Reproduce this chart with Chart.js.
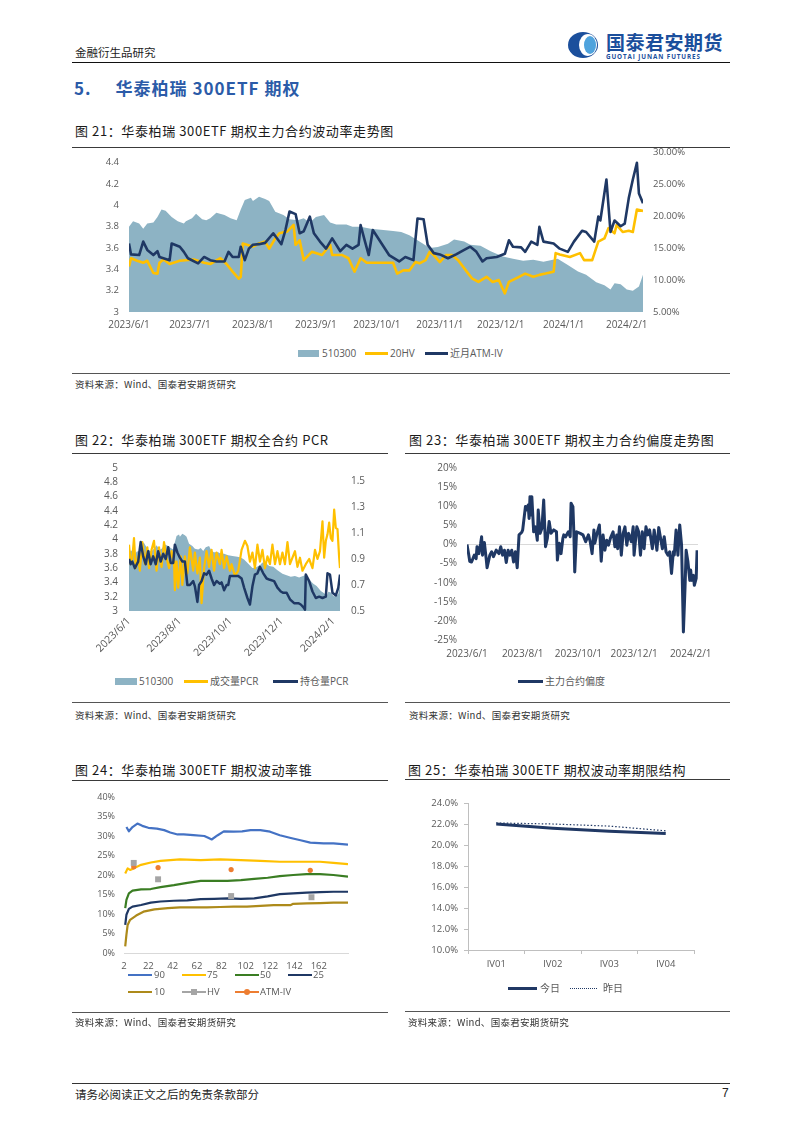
<!DOCTYPE html>
<html><head><meta charset="utf-8">
<script src="https://cdn.jsdelivr.net/npm/chart.js@4.4.1/dist/chart.umd.min.js"></script>
<style>
body{margin:0;background:#fff;width:802px;height:1134px;position:relative;overflow:hidden;font-family:"Noto Sans CJK SC","Noto Sans",sans-serif;}
.abs{position:absolute;white-space:nowrap;}
.rule{position:absolute;height:0;border-top:1px solid #3a3a3a;}
.title{position:absolute;white-space:nowrap;font-size:13px;letter-spacing:0.6px;color:#1a1a1a;line-height:16px;}
.src{position:absolute;white-space:nowrap;font-size:9.5px;color:#333;line-height:12px;letter-spacing:0.3px;}
.leg{position:absolute;white-space:nowrap;font-size:10px;color:#595959;line-height:12px;font-family:"Open Sans","Noto Sans CJK SC",sans-serif;}
.sw{position:absolute;}
canvas{position:absolute;}
</style></head>
<body>
<!-- header -->
<div class="abs" style="left:75px;top:45px;font-size:11.5px;line-height:14px;color:#222;">金融衍生品研究</div>
<svg class="abs" style="left:566px;top:31px" width="38" height="28" viewBox="0 0 38 28">
  <ellipse cx="17" cy="14" rx="15" ry="13" fill="#1B4F9C"/>
  <ellipse cx="22" cy="14" rx="9" ry="11" fill="#ffffff"/>
  <ellipse cx="24" cy="14" rx="6" ry="9" fill="#4FA3DD"/>
</svg>
<div class="abs" style="left:606px;top:31px;font-size:19px;line-height:22px;font-weight:bold;color:#1B4F9C;letter-spacing:0.5px;">国泰君安期货</div>
<div class="abs" style="left:606px;top:53px;font-size:6.3px;line-height:7px;color:#1B4F9C;letter-spacing:0.9px;font-family:'Open Sans',sans-serif;font-weight:bold;">GUOTAI JUNAN FUTURES</div>
<div class="rule" style="left:72px;top:62px;width:658px;border-top:1px solid #111;"></div>

<div class="abs" style="left:74px;top:77px;font-size:17px;line-height:22px;font-weight:bold;color:#2B5BA8;letter-spacing:1px;">5.<span style="margin-left:24px">华泰柏瑞 300ETF 期权</span></div>

<!-- fig 21 -->
<div class="title" style="left:75px;top:123px;">图 21：华泰柏瑞 300ETF 期权主力合约波动率走势图</div>
<div class="rule" style="left:72px;top:147px;width:658px;"></div>
<canvas id="c21" width="658" height="194" style="left:72px;top:140px;"></canvas>
<div class="sw" style="left:298px;top:350px;width:21px;height:7px;background:#8DB3C4;"></div>
<div class="leg" style="left:322px;top:347px;">510300</div>
<div class="sw" style="left:365px;top:352px;width:23px;height:2.5px;background:#FFC000;"></div>
<div class="leg" style="left:390px;top:347px;">20HV</div>
<div class="sw" style="left:425px;top:352px;width:23px;height:2.5px;background:#1F3864;"></div>
<div class="leg" style="left:450px;top:347px;">近月ATM-IV</div>
<div class="rule" style="left:72px;top:373px;width:658px;border-top:1px solid #555;"></div>
<div class="src" style="left:75px;top:378px;">资料来源：Wind、国泰君安期货研究</div>

<!-- fig 22 -->
<div class="title" style="left:75px;top:432px;">图 22：华泰柏瑞 300ETF 期权全合约 PCR</div>
<div class="rule" style="left:72px;top:453px;width:316px;"></div>
<canvas id="c22" width="315" height="201" style="left:72px;top:455px;"></canvas>
<div class="sw" style="left:115px;top:678px;width:22px;height:7px;background:#8DB3C4;"></div>
<div class="leg" style="left:139px;top:675px;">510300</div>
<div class="sw" style="left:184px;top:680px;width:24px;height:2.5px;background:#FFC000;"></div>
<div class="leg" style="left:210px;top:675px;">成交量PCR</div>
<div class="sw" style="left:273px;top:680px;width:25px;height:2.5px;background:#1F3864;"></div>
<div class="leg" style="left:300px;top:675px;">持仓量PCR</div>
<div class="rule" style="left:72px;top:702px;width:316px;border-top:1px solid #555;"></div>
<div class="src" style="left:75px;top:709px;">资料来源：Wind、国泰君安期货研究</div>

<!-- fig 23 -->
<div class="title" style="left:409px;top:432px;">图 23：华泰柏瑞 300ETF 期权主力合约偏度走势图</div>
<div class="rule" style="left:405px;top:453px;width:325px;"></div>
<canvas id="c23" width="330" height="207" style="left:400px;top:455px;"></canvas>
<div class="sw" style="left:518px;top:680px;width:25px;height:3px;background:#1F3864;"></div>
<div class="leg" style="left:545px;top:675px;">主力合约偏度</div>
<div class="rule" style="left:405px;top:702px;width:325px;border-top:1px solid #555;"></div>
<div class="src" style="left:409px;top:709px;">资料来源：Wind、国泰君安期货研究</div>

<!-- fig 24 -->
<div class="title" style="left:75px;top:762px;">图 24：华泰柏瑞 300ETF 期权波动率锥</div>
<div class="rule" style="left:72px;top:780px;width:316px;"></div>
<canvas id="c24" width="315" height="190" style="left:72px;top:782px;"></canvas>
<div class="sw" style="left:128px;top:974px;width:24px;height:2px;background:#4472C4;"></div>
<div class="leg" style="left:154px;top:969px;font-size:9.5px;">90</div>
<div class="sw" style="left:182px;top:974px;width:24px;height:2px;background:#FFC000;"></div>
<div class="leg" style="left:207px;top:969px;font-size:9.5px;">75</div>
<div class="sw" style="left:235px;top:974px;width:24px;height:2px;background:#3A7D23;"></div>
<div class="leg" style="left:260px;top:969px;font-size:9.5px;">50</div>
<div class="sw" style="left:288px;top:974px;width:24px;height:2px;background:#1F3864;"></div>
<div class="leg" style="left:313px;top:969px;font-size:9.5px;">25</div>
<div class="sw" style="left:128px;top:991px;width:24px;height:2px;background:#AD8A1A;"></div>
<div class="leg" style="left:154px;top:986px;font-size:9.5px;">10</div>
<div class="sw" style="left:182px;top:991px;width:24px;height:2px;background:#A5A5A5;"></div>
<div class="sw" style="left:191px;top:989px;width:6px;height:6px;background:#A5A5A5;"></div>
<div class="leg" style="left:207px;top:986px;font-size:9.5px;">HV</div>
<div class="sw" style="left:235px;top:991px;width:24px;height:2px;background:#ED7D31;"></div>
<div class="sw" style="left:244px;top:989px;width:6px;height:6px;border-radius:3px;background:#ED7D31;"></div>
<div class="leg" style="left:260px;top:986px;font-size:9.5px;">ATM-IV</div>
<div class="rule" style="left:72px;top:1012px;width:316px;border-top:1px solid #555;"></div>
<div class="src" style="left:75px;top:1016px;">资料来源：Wind、国泰君安期货研究</div>

<!-- fig 25 -->
<div class="title" style="left:408px;top:762px;">图 25：华泰柏瑞 300ETF 期权波动率期限结构</div>
<div class="rule" style="left:405px;top:779px;width:325px;"></div>
<canvas id="c25" width="330" height="190" style="left:400px;top:782px;"></canvas>
<div class="sw" style="left:508px;top:987px;width:29px;height:3px;background:#203864;"></div>
<div class="leg" style="left:540px;top:982px;">今日</div>
<div class="sw" style="left:570px;top:988px;width:27px;height:0;border-top:1.5px dotted #203864;"></div>
<div class="leg" style="left:603px;top:982px;">昨日</div>
<div class="rule" style="left:405px;top:1011px;width:325px;border-top:1px solid #555;"></div>
<div class="src" style="left:408px;top:1016px;">资料来源：Wind、国泰君安期货研究</div>

<!-- footer -->
<div class="rule" style="left:72px;top:1083px;width:658px;border-top:1px solid #333;"></div>
<div class="abs" style="left:75px;top:1087px;font-size:11.5px;line-height:14px;color:#222;">请务必阅读正文之后的免责条款部分</div>
<div class="abs" style="left:722px;top:1086px;font-size:12px;line-height:14px;color:#222;font-family:'Liberation Sans',sans-serif;">7</div>

<script>
// ===== DATA (x = calendar day offset from 2023/6/1) =====
const monthTickDays = [0,30,61,92,122,153,183,214,245];
const monthTickLabels = ['2023/6/1','2023/7/1','2023/8/1','2023/9/1','2023/10/1','2023/11/1','2023/12/1','2024/1/1','2024/2/1'];
const biMonthTickDays = [0,61,122,183,245];
const biMonthTickLabels = ['2023/6/1','2023/8/1','2023/10/1','2023/12/1','2024/2/1'];

// 510300 close (left axis, fig 21 & 22)
const etfDays = [0,2,5,7,9,12,14,16,18,21,24,27,28,31,33,36,38,40,43,47,50,53,55,57,60,61,64,67,69,72,76,79,83,86,89,92,96,99,102,107,110,114,119,124,130,134,138,143,148,152,157,160,165,168,173,178,184,189,194,199,204,211,216,221,225,230,234,237,239,242,245,248,251,253];
const etfClose = [3.80,3.85,3.83,3.78,3.83,3.84,3.89,3.96,3.95,3.89,3.85,3.83,3.85,3.88,3.92,3.87,3.86,3.88,3.93,3.91,3.88,3.86,3.96,4.05,4.07,4.04,4.08,4.06,4.04,3.94,3.91,3.87,3.86,3.88,3.84,3.89,3.91,3.84,3.82,3.82,3.80,3.80,3.78,3.77,3.76,3.75,3.72,3.66,3.60,3.61,3.64,3.68,3.66,3.63,3.62,3.57,3.52,3.50,3.48,3.49,3.47,3.50,3.44,3.38,3.35,3.28,3.25,3.21,3.27,3.26,3.21,3.20,3.24,3.35];

// 20HV (%) fig 21
const hv20Days = [0,1,4,7,9,12,14,15,17,20,25,32,37,40,45,48,51,54,55,56,58,61,64,67,69,72,74,78,81,82,84,86,90,95,99,100,105,108,111,114,117,122,130,132,135,138,141,143,146,148,150,153,156,159,162,167,169,172,176,179,182,185,187,192,195,199,202,205,209,210,212,217,222,224,228,231,234,236,239,240,243,246,248,250,253];
const hv20 = [12.1,13.4,13.0,12.7,13.0,11.1,11.0,12.7,13.2,12.5,13.0,13.2,12.7,12.5,13.4,12.5,11.3,10.2,10.5,15.7,15.5,15.2,15.7,16.0,14.9,16.5,17.3,17.6,18.6,15.5,16.2,13.1,14.4,13.9,15.5,13.9,13.9,13.4,11.3,13.4,12.7,12.7,12.7,11.0,11.5,11.5,12.8,12.6,13.1,14.4,13.9,12.8,13.9,13.9,13.1,11.0,10.2,9.7,10.5,9.7,10.0,7.9,9.7,10.5,11.0,10.5,10.8,11.0,11.3,14.2,14.0,13.6,14.2,13.1,13.1,16.0,16.5,18.1,17.3,18.6,17.5,17.7,17.5,21.0,20.8];

// near-month ATM IV (%) fig 21
const atmIvDays = [0,1,5,7,9,12,14,15,20,21,25,27,29,34,37,40,43,47,49,51,54,55,57,59,61,64,67,71,75,77,79,82,84,86,89,91,94,97,100,104,107,110,113,114,116,118,120,128,133,136,140,142,145,147,150,153,157,161,165,168,171,174,176,181,185,187,189,193,195,198,201,202,204,209,212,216,219,223,225,229,231,232,235,237,239,242,244,246,248,250,251,253];
const atmIv = [15.7,14.0,13.9,16.0,14.7,13.9,14.5,13.6,13.1,15.7,15.2,14.4,13.4,12.6,13.6,13.1,12.9,12.9,14.4,13.6,13.6,15.2,13.1,14.9,15.5,15.6,15.8,17.3,15.6,17.8,20.7,20.3,17.3,17.6,19.9,17.3,16.0,14.9,16.5,14.5,15.5,14.9,15.5,18.6,16.2,13.9,17.8,13.9,12.9,13.6,13.1,19.6,19.5,15.5,14.2,14.0,13.4,14.0,14.7,15.2,14.4,12.9,13.4,13.6,14.1,16.2,15.2,15.1,14.4,16.0,15.5,18.3,16.0,15.7,14.9,14.4,16.0,17.7,17.5,16.0,19.9,19.3,25.7,17.5,19.3,18.4,18.8,22.8,25.7,28.3,23.5,22.0];

// PCR fig 22 (right axis)
const volPcrDays = [0,2,4,6,8,11,13,16,19,22,24,27,30,33,36,39,42,45,48,51,54,55,57,59,62,64,67,70,73,77,79,82,85,87,90,93,96,99,102,105,109,111,114,117,121,123,127,131,135,139,142,145,148,151,154,157,160,163,166,169,172,175,178,181,184,187,190,193,196,199,202,205,208,212,216,220,223,226,229,232,234,236,238,240,242,244,246,248,250,252,253];
const volPcr = [1.01,0.86,0.91,1.06,0.83,0.92,0.81,1.03,0.86,0.99,0.83,0.97,1.04,0.81,0.99,0.84,1.03,0.91,0.83,0.96,0.88,0.66,0.88,0.68,0.92,0.70,0.92,0.79,0.99,0.81,0.95,0.79,0.91,0.56,0.83,0.96,0.84,0.97,0.81,0.95,0.86,0.97,0.83,0.92,0.81,0.86,0.77,0.81,0.97,1.04,1.00,0.88,0.95,0.83,1.01,0.88,0.97,0.83,0.92,0.86,1.01,0.86,0.96,0.86,0.95,0.86,1.03,0.86,0.91,0.96,0.84,0.91,0.81,0.86,0.90,0.83,0.97,0.90,0.96,1.19,0.91,1.04,1.09,1.18,1.06,1.04,1.28,1.14,1.13,0.91,0.83];
const oiPcrDays = [0,2,4,7,11,14,17,20,23,26,29,32,35,38,41,44,47,50,53,55,58,61,64,67,70,73,77,79,82,84,87,90,93,96,99,102,105,109,111,114,117,119,121,125,131,135,138,142,145,148,151,154,157,161,165,169,174,178,182,185,189,193,198,203,206,209,211,212,216,220,224,228,232,236,238,241,244,248,251,253];
const oiPcr = [0.90,0.86,0.88,0.83,0.88,1.03,0.92,0.86,0.96,0.86,0.92,0.86,0.96,0.88,0.94,0.90,0.99,0.87,0.87,1.01,0.95,0.91,0.88,0.88,0.70,0.70,0.73,0.69,0.57,0.70,0.73,0.79,0.78,0.81,0.75,0.70,0.73,0.71,0.72,0.66,0.70,0.70,0.77,0.77,0.77,0.75,0.68,0.60,0.55,0.69,0.78,0.79,0.84,0.79,0.75,0.74,0.73,0.68,0.65,0.64,0.64,0.59,0.56,0.56,0.55,0.53,0.51,0.78,0.73,0.65,0.60,0.61,0.60,0.61,0.79,0.78,0.64,0.62,0.68,0.78];

// skew (%) fig 23
const skewDays = [0,2,3,5,8,10,11,13,15,16,17,19,21,22,25,27,29,32,35,37,39,41,43,45,47,49,51,53,55,57,60,61,64,65,67,68,69,70,71,73,75,77,78,80,82,84,86,88,90,92,95,98,99,101,103,105,106,108,111,113,114,116,117,118,120,124,127,130,133,135,137,139,140,142,145,147,149,151,153,155,157,160,162,164,165,167,169,171,173,175,177,180,182,183,186,188,190,192,194,196,198,200,203,205,208,210,212,214,216,218,220,222,224,226,227,229,231,233,235,237,239,240,242,244,245,246,248,249,251,252];
const skew = [0,-2.8,-4.4,-4.6,-2.8,-3.7,-0.6,-2.4,0.3,2.0,-2.8,0.5,-3.7,-6.1,-2.8,-1.9,-3.2,-1.5,-2.4,-0.6,-2.8,-1.5,-4.7,-1.5,-2.8,-1.5,-4.6,-1.9,-6.1,2.5,3.2,3.8,9.9,9.0,10.3,6.8,12.5,7.7,12.5,3.3,4.6,1.1,9.0,2.9,4.2,11.6,-0.6,1.6,6.0,2.9,3.8,3.3,-4.1,0.3,-2.4,1.6,2.5,2.0,3.3,2.0,10.8,9.9,3.3,-7.2,3.3,2.9,2.5,0.7,2.5,0.7,-2.4,3.8,0.3,2.5,5.1,-4.4,2.5,-1.5,1.1,-0.2,1.6,3.3,-0.6,2.5,-1.1,4.6,-2.8,2.9,4.6,-0.2,2.9,0.7,4.6,-2.8,4.6,3.3,-2.8,3.3,-1.1,4.6,2.5,3.8,-1.1,3.8,-1.5,4.4,1.6,-1.1,2.0,-1.9,-2.8,-1.9,-7.6,-1.9,-2.8,3.8,-2.8,5.1,-0.2,-22.9,-9.8,-1.5,-4.6,-9.4,-6.7,-9.4,-8.1,-10.7,-8.9,-1.5];

// volatility cone fig 24 (x = window in days, y = %)
const coneTicks = [2,22,42,62,82,102,122,142,162];
const cone90W = [4,6,9,13,17,22,29,35,40,46,51,59,68,72,74,79,84,92,99,106,114,122,130,139,147,155,166,174,186];
const cone90 = [32.3,31.2,32.3,33.2,32.6,32.1,31.9,31.5,30.9,30.4,30.4,30.2,30.0,29.4,29.1,30.2,31.2,31.1,31.2,31.5,31.5,31.1,30.2,29.5,28.9,28.3,28.1,28.1,27.8];
const cone75W = [3,5,7,10,16,24,32,40,48,65,81,98,114,130,147,163,174,186];
const cone75 = [20.4,21.7,21.3,21.7,22.6,23.2,23.6,23.8,24.0,23.8,24.0,23.8,23.6,23.4,23.4,23.4,23.1,22.8];
const cone50W = [3,4,6,9,16,24,32,43,54,65,76,87,98,109,120,130,141,152,163,174,186];
const cone50 = [11.5,13.6,15.3,16.0,16.3,16.4,16.9,17.4,18.0,18.5,18.5,18.5,18.7,19.0,19.3,19.7,20.0,20.2,20.2,20.0,19.6];
const cone25W = [3,4,6,9,16,24,32,43,54,65,76,87,98,109,120,130,141,152,163,174,186];
const cone25 = [7.2,9.8,11.3,11.9,12.3,12.9,13.2,13.4,13.5,13.8,13.9,14.0,13.9,14.0,14.5,15.1,15.3,15.5,15.6,15.7,15.7];
const cone10W = [3,4,5,7,12,18,27,38,48,59,70,81,92,103,114,125,139,141,152,163,174,186];
const cone10 = [1.7,4.7,7.2,8.5,9.6,10.6,11.2,11.5,11.7,11.7,11.7,11.8,11.9,11.9,12.1,12.3,12.3,12.6,12.7,12.8,12.9,12.9];
const coneHvW = [10,30,90,156];
const coneHv = [23.1,18.9,14.6,14.3];
const coneIvW = [10,30,90,155];
const coneIv = [22.1,21.9,21.4,21.2];

// term structure fig 25
const termCats = ['IV01','IV02','IV03','IV04'];
const termToday = [22.0,21.6,21.3,21.1];
const termYesterday = [22.1,22.0,21.8,21.35];

// ===== helpers =====
const FONT = "'Open Sans','Noto Sans CJK SC',sans-serif";
Chart.defaults.font.family = FONT;
Chart.defaults.color = '#595959';
const pts = (xs, ys) => xs.map((x, i) => ({x: x, y: ys[i]}));
const fixW = w => s => { s.width = w; s.paddingTop = 0; s.paddingBottom = 0; };
const fixH = h => s => { s.height = h; s.paddingLeft = 0; s.paddingRight = 0; };
const ticksAt = arr => s => { s.ticks = arr.map(v => ({value: v})); };
const num1 = v => String(+(+v).toFixed(1));
const base = (pad) => ({responsive:false, animation:false, devicePixelRatio:1, layout:{padding:pad},
  plugins:{legend:{display:false}, tooltip:{enabled:false}}, elements:{point:{radius:0}, line:{tension:0, borderJoinStyle:'round'}}});
const noGrid = {display:false, drawTicks:false};
const noBorder = {display:false};
const range = (a, b, s) => { const r = []; for (let v = a; v <= b + 1e-9; v += s) r.push(+v.toFixed(4)); return r; };

// ===== Fig 21 =====
new Chart(document.getElementById('c21'), {
  type: 'line',
  data: {datasets: [
    {label:'近月ATM-IV', data: pts(atmIvDays, atmIv), yAxisID:'y2', borderColor:'#1F3864', borderWidth:2.6, order:1},
    {label:'20HV', data: pts(hv20Days, hv20), yAxisID:'y2', borderColor:'#FFC000', borderWidth:2.6, order:2},
    {label:'510300', data: pts(etfDays, etfClose), yAxisID:'y', borderColor:'rgba(0,0,0,0)', borderWidth:0, backgroundColor:'#8DB3C4', fill:'start', order:3}
  ]},
  options: Object.assign(base({top:12, left:0, right:0, bottom:0}), {scales: {
    x: {type:'linear', min:0, max:253, grid:noGrid, border:noBorder, afterFit:fixH(22), afterBuildTicks:ticksAt(monthTickDays),
        ticks:{autoSkip:false, maxRotation:0, padding:7, font:{size:10}, callback:v => monthTickLabels[monthTickDays.indexOf(v)]}},
    y: {position:'left', min:3, max:4.5, grid:noGrid, border:noBorder, afterFit:fixW(57), afterBuildTicks:ticksAt(range(3,4.4,0.2)),
        ticks:{autoSkip:false, padding:10, font:{size:9.5}, callback:num1}},
    y2: {position:'right', min:5, max:30, grid:noGrid, border:noBorder, afterFit:fixW(87), afterBuildTicks:ticksAt(range(5,30,5)),
        ticks:{autoSkip:false, padding:10, font:{size:9.5}, callback:v => (+v).toFixed(2) + '%'}}
  }})
});

// ===== Fig 22 =====
new Chart(document.getElementById('c22'), {
  type: 'line',
  data: {datasets: [
    {label:'持仓量PCR', data: pts(oiPcrDays, oiPcr), yAxisID:'y2', borderColor:'#1F3864', borderWidth:2.5, order:1},
    {label:'成交量PCR', data: pts(volPcrDays, volPcr), yAxisID:'y2', borderColor:'#FFC000', borderWidth:2.2, order:2},
    {label:'510300', data: pts(etfDays, etfClose), yAxisID:'y', borderColor:'rgba(0,0,0,0)', borderWidth:0, backgroundColor:'#8DB3C4', fill:'start', order:3}
  ]},
  options: Object.assign(base({top:13, left:0, right:0, bottom:0}), {scales: {
    x: {type:'linear', min:0, max:253, grid:noGrid, border:noBorder, afterFit:fixH(45), afterBuildTicks:ticksAt(biMonthTickDays),
        ticks:{autoSkip:false, minRotation:45, maxRotation:45, padding:4, font:{size:10.5}, callback:v => biMonthTickLabels[biMonthTickDays.indexOf(v)]}},
    y: {position:'left', min:3, max:5, grid:noGrid, border:noBorder, afterFit:fixW(57), afterBuildTicks:ticksAt(range(3,5,0.2)),
        ticks:{autoSkip:false, padding:11, font:{size:10}, callback:num1}},
    y2: {position:'right', min:0.5, max:1.6, grid:noGrid, border:noBorder, afterFit:fixW(47), afterBuildTicks:ticksAt(range(0.5,1.5,0.2)),
        ticks:{autoSkip:false, padding:11, font:{size:10}, callback:num1}}
  }})
});

// ===== Fig 23 =====
new Chart(document.getElementById('c23'), {
  type: 'line',
  data: {datasets: [
    {label:'主力合约偏度', data: pts(skewDays, skew), borderColor:'#1F3864', borderWidth:3}
  ]},
  options: Object.assign(base({top:13, left:0, right:32, bottom:0}), {scales: {
    x: {type:'linear', min:0, max:253, grid:noGrid, border:noBorder, afterFit:fixH(22), afterBuildTicks:ticksAt(biMonthTickDays),
        ticks:{autoSkip:false, maxRotation:0, padding:8, font:{size:10}, callback:v => biMonthTickLabels[biMonthTickDays.indexOf(v)]}},
    y: {position:'left', min:-25, max:20, border:noBorder, afterFit:fixW(67), afterBuildTicks:ticksAt(range(-25,20,5)),
        grid:{drawTicks:false, lineWidth:1, color: c => (c.tick && c.tick.value === 0) ? '#D9D9D9' : 'rgba(0,0,0,0)'},
        ticks:{autoSkip:false, padding:10, font:{size:10}, callback:v => Math.round(v) + '%'}}
  }})
});

// ===== Fig 24 =====
const coneLine = (label, w, v, color) => ({label, data: pts(w, v), borderColor: color, borderWidth: 2.2});
new Chart(document.getElementById('c24'), {
  type: 'line',
  data: {datasets: [
    {label:'HV', data: pts(coneHvW, coneHv), showLine:false, pointStyle:'rect', pointRadius:4.2, backgroundColor:'#A5A5A5', borderColor:'#A5A5A5', borderWidth:0},
    {label:'ATM-IV', data: pts(coneIvW, coneIv), showLine:false, pointStyle:'circle', pointRadius:2.6, backgroundColor:'#ED7D31', borderColor:'#ED7D31', borderWidth:0},
    coneLine('90', cone90W, cone90, '#4472C4'),
    coneLine('75', cone75W, cone75, '#FFC000'),
    coneLine('50', cone50W, cone50, '#3A7D23'),
    coneLine('25', cone25W, cone25, '#1F3864'),
    coneLine('10', cone10W, cone10, '#AD8A1A')
  ]},
  options: Object.assign(base({top:15, left:0, right:39, bottom:0}), {scales: {
    x: {type:'linear', min:2, max:186, grid:noGrid, border:{display:true, color:'#D9D9D9'}, afterFit:fixH(19), afterBuildTicks:ticksAt(coneTicks),
        ticks:{autoSkip:false, maxRotation:0, padding:8, font:{size:9.5}, callback:v => String(v)}},
    y: {position:'left', min:0, max:40, grid:noGrid, border:noBorder, afterFit:fixW(52), afterBuildTicks:ticksAt(range(0,40,5)),
        ticks:{autoSkip:false, padding:9, font:{size:9}, callback:v => Math.round(v) + '%'}}
  }})
});

// ===== Fig 25 =====
new Chart(document.getElementById('c25'), {
  type: 'line',
  data: {labels: termCats, datasets: [
    {label:'今日', data: termToday, borderColor:'#203864', borderWidth:3},
    {label:'昨日', data: termYesterday, borderColor:'#203864', borderWidth:1.2, borderDash:[1.5,2]}
  ]},
  options: Object.assign(base({top:21, left:0, right:36, bottom:0}), {scales: {
    x: {type:'category', offset:true, border:{display:true, color:'#BFBFBF'}, afterFit:fixH(22),
        grid:{offset:true, drawOnChartArea:false, drawTicks:true, tickLength:4, color:'#BFBFBF'},
        ticks:{padding:5, font:{size:9.5}}},
    y: {position:'left', min:10, max:24, border:{display:true, color:'#BFBFBF'}, afterFit:fixW(68), afterBuildTicks:ticksAt(range(10,24,2)),
        grid:{drawOnChartArea:false, drawTicks:true, tickLength:4, color:'#BFBFBF'},
        ticks:{autoSkip:false, padding:6, font:{size:9.5}, callback:v => (+v).toFixed(1) + '%'}}
  }})
});
</script>
</body></html>
